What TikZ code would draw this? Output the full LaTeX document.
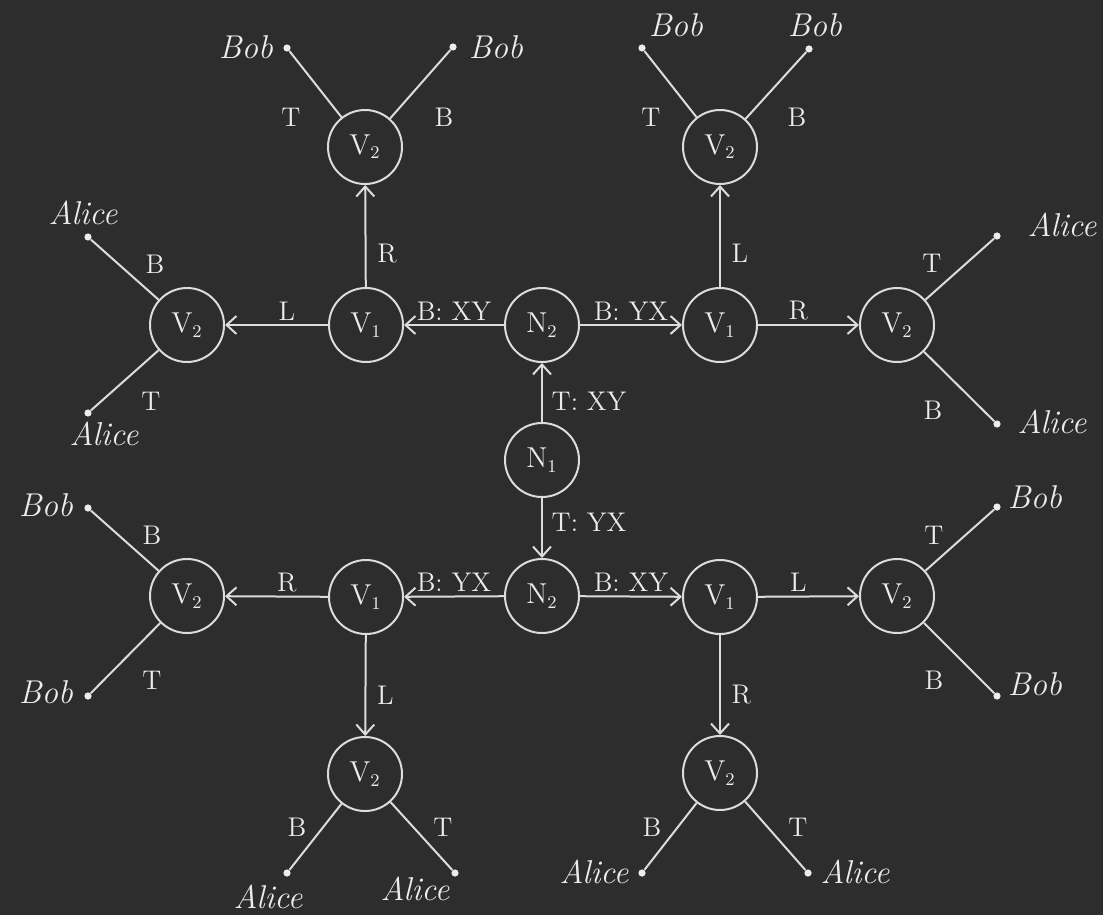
\documentclass[tikz,border=0pt]{standalone}
\usetikzlibrary{arrows.meta}
\definecolor{bg}{HTML}{2D2D2D}
\definecolor{fg}{HTML}{ECECEC}
\definecolor{lc}{HTML}{DCDCDC}
\begin{document}
\begin{tikzpicture}[x=0.5pt,y=-0.5pt,
  font=\fontsize{13.5}{16}\selectfont,
  every node/.style={text=fg},
  vert/.style={circle,draw=lc,line width=1pt,minimum size=37pt,inner sep=0pt},
  leaf/.style={circle,fill=fg,minimum size=3.6pt,inner sep=0pt},
  arr/.style={draw=lc,line width=1pt,-{Straight Barb[length=5pt,width=9pt]}},
  ln/.style={draw=lc,line width=1pt},
  nm/.style={font=\fontsize{16.5}{18}\selectfont\itshape},
  lb/.style={inner sep=0pt}]
\fill[bg] (0,0) rectangle (1103,915);
\useasboundingbox (0,0) rectangle (1103,915);

% central column
\node[vert] (n2t) at (542,325) {$\mathrm{N}_2$};
\node[vert] (n1)  at (542,460) {$\mathrm{N}_1$};
\node[vert] (n2b) at (542,596) {$\mathrm{N}_2$};

% V1 nodes
\node[vert] (v1tl) at (366,325) {$\mathrm{V}_1$};
\node[vert] (v1tr) at (720,325) {$\mathrm{V}_1$};
\node[vert] (v1bl) at (366,597) {$\mathrm{V}_1$};
\node[vert] (v1br) at (720,597) {$\mathrm{V}_1$};

% V2 nodes
\node[vert] (v2tl) at (365,147) {$\mathrm{V}_2$};
\node[vert] (v2tr) at (720,147) {$\mathrm{V}_2$};
\node[vert] (v2l)  at (187,325) {$\mathrm{V}_2$};
\node[vert] (v2r)  at (897,325) {$\mathrm{V}_2$};
\node[vert] (v2bl) at (187,596) {$\mathrm{V}_2$};
\node[vert] (v2br) at (897,596) {$\mathrm{V}_2$};
\node[vert] (v2dl) at (365,774) {$\mathrm{V}_2$};
\node[vert] (v2dr) at (720,773) {$\mathrm{V}_2$};

% arrows
\draw[arr] (n1) -- node[pos=0.35,right=1pt] {T: XY} (n2t);
\draw[arr] (n1) -- node[pos=0.4,right=1pt] {T: YX} (n2b);
\draw[arr] (n2t) -- node[midway,above=-1.5pt] {B: XY} (v1tl);
\draw[arr] (n2t) -- node[midway,above=-1.5pt] {B: YX} (v1tr);
\draw[arr] (n2b) -- node[midway,above=-1.5pt] {B: YX} (v1bl);
\draw[arr] (n2b) -- node[midway,above=-1.5pt] {B: XY} (v1br);

\draw[arr] (v1tl) -- node[pos=0.4,above=-1.5pt] {L} (v2l);
\draw[arr] (v1tl) -- node[pos=0.33,right=2pt] {R} (v2tl);
\draw[arr] (v1tr) -- node[pos=0.33,right=2pt] {L} (v2tr);
\draw[arr] (v1tr) -- node[pos=0.4,above=-1.5pt] {R} (v2r);
\draw[arr] (v1bl) -- node[pos=0.4,above=-1.5pt] {R} (v2bl);
\draw[arr] (v1bl) -- node[pos=0.6,right=2pt] {L} (v2dl);
\draw[arr] (v1br) -- node[pos=0.6,right=2pt] {R} (v2dr);
\draw[arr] (v1br) -- node[pos=0.4,above=-1.5pt] {L} (v2br);

% leaves
\node[leaf] (a1) at (287,48) {};
\node[leaf] (a2) at (453,47) {};
\node[leaf] (b1) at (642,48) {};
\node[leaf] (b2) at (809,49) {};
\node[leaf] (c1) at (88,237) {};
\node[leaf] (c2) at (88,413) {};
\node[leaf] (e1) at (997,236) {};
\node[leaf] (e2) at (997,424) {};
\node[leaf] (f1) at (88,508) {};
\node[leaf] (f2) at (88,696) {};
\node[leaf] (g1) at (997,507) {};
\node[leaf] (g2) at (997,696) {};
\node[leaf] (h1) at (287,873) {};
\node[leaf] (h2) at (455,873) {};
\node[leaf] (k1) at (642,873) {};
\node[leaf] (k2) at (808,873) {};

\draw[ln] (v2tl) -- (a1); \draw[ln] (v2tl) -- (a2);
\draw[ln] (v2tr) -- (b1); \draw[ln] (v2tr) -- (b2);
\draw[ln] (v2l) -- (c1);  \draw[ln] (v2l) -- (c2);
\draw[ln] (v2r) -- (e1);  \draw[ln] (v2r) -- (e2);
\draw[ln] (v2bl) -- (f1); \draw[ln] (v2bl) -- (f2);
\draw[ln] (v2br) -- (g1); \draw[ln] (v2br) -- (g2);
\draw[ln] (v2dl) -- (h1); \draw[ln] (v2dl) -- (h2);
\draw[ln] (v2dr) -- (k1); \draw[ln] (v2dr) -- (k2);

% leaf edge labels
\node[lb] (la1) at (291,117) {T}; \node[lb] (la2) at (444,117) {B};
\node[lb] (lb1) at (651,117) {T}; \node[lb] (lb2) at (797,117) {B};
\node[lb] (lc1) at (155,264) {B}; \node[lb] (lc2) at (151,401) {T};
\node[lb] (le1) at (932,263) {T}; \node[lb] (le2) at (933,410) {B};
\node[lb] (lf1) at (152,535) {B}; \node[lb] (lf2) at (152,680) {T};
\node[lb] (lg1) at (934,535) {T}; \node[lb] (lg2) at (934,680) {B};
\node[lb] (lh1) at (297,827) {B}; \node[lb] (lh2) at (443,827) {T};
\node[lb] (lk1) at (652,827) {B}; \node[lb] (lk2) at (798,827) {T};

% names
\node[nm] (na1) at (246,47) {Bob};
\node[nm] (na2) at (496,47) {Bob};
\node[nm] (nb1) at (676,25) {Bob};
\node[nm] (nb2) at (815,25) {Bob};
\node[nm] (nc1) at (83,213) {Alice};
\node[nm] (nc2) at (104,434) {Alice};
\node[nm] (ne1) at (1062,225) {Alice};
\node[nm] (ne2) at (1052,422) {Alice};
\node[nm] (nf1) at (46,505) {Bob};
\node[nm] (nf2) at (46,692) {Bob};
\node[nm] (ng1) at (1035,497) {Bob};
\node[nm] (ng2) at (1035,684) {Bob};
\node[nm] (nh1) at (268,897) {Alice};
\node[nm] (nh2) at (415,889) {Alice};
\node[nm] (nk1) at (594,872) {Alice};
\node[nm] (nk2) at (855,872) {Alice};
\end{tikzpicture}
\end{document}
